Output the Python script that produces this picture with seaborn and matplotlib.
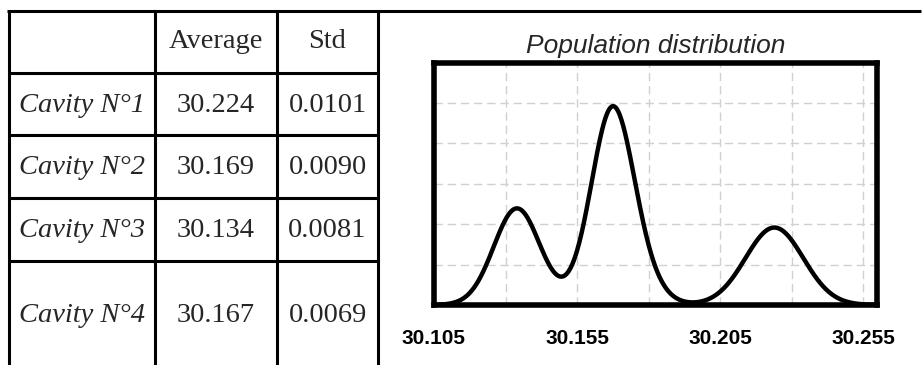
import numpy as np
import pandas as pd
import matplotlib
matplotlib.use("Agg")
import matplotlib.pyplot as plt
from matplotlib.ticker import FixedLocator, FixedFormatter
import seaborn as sns

# table values
cavities = ["Cavity N°1", "Cavity N°2", "Cavity N°3", "Cavity N°4"]
averages = [30.224, 30.169, 30.134, 30.167]
stds = [0.0101, 0.0090, 0.0081, 0.0069]
col_headers = ["", "Average", "Std"]

# x axis
x_ticks = [30.105, 30.130, 30.155, 30.180, 30.205, 30.230, 30.255]
x_ticklabels = ["30.105", "", "30.155", "", "30.205", "", "30.255"]

sns.set_style("white")
plt.rcParams["font.family"] = ["Liberation Sans", "DejaVu Sans"]

# population = mixture of the cavity normals
xs = np.linspace(30.105, 30.26, 800)
dens = np.zeros_like(xs)
for m, s in zip(averages, stds):
    dens += np.exp(-0.5 * ((xs - m) / s) ** 2) / (s * np.sqrt(2 * np.pi))
dens /= len(averages)
df = pd.DataFrame({"value": xs, "density": dens})

fig = plt.figure(figsize=(9.22, 3.65), dpi=100)

# ---- table (drawn in pixel coords) ----
tab = fig.add_axes([0, 0, 1, 1])
tab.set_xlim(0, 922)
tab.set_ylim(365, 0)
tab.axis("off")
col_edges = [8.5, 154.5, 277, 378]
row_edges = [11, 73, 135, 198, 261, 369]
lw_tab = 2.2
tab.plot([7, 921], [11, 11], color="black", lw=lw_tab, solid_capstyle="butt")
for xe in col_edges:
    tab.plot([xe, xe], [11, 366], color="black", lw=lw_tab, solid_capstyle="butt")
for ye in row_edges[1:-1]:
    tab.plot([col_edges[0], col_edges[-1]], [ye, ye], color="black", lw=lw_tab, solid_capstyle="butt")

col_c = [(col_edges[i] + col_edges[i + 1]) / 2 for i in range(3)]
row_c = [(row_edges[i] + row_edges[i + 1]) / 2 for i in range(5)]
serif = ["Liberation Serif", "DejaVu Serif"]
fs_tab = 20.5
for j, h in enumerate(col_headers):
    tab.text(col_c[j], row_c[0], h, ha="center", va="center", fontsize=fs_tab, family=serif)
for i, (c, a, s) in enumerate(zip(cavities, averages, stds)):
    y = row_c[i + 1] + 1
    tab.text(col_c[0], y, c, ha="center", va="center", fontsize=fs_tab, family=serif, style="italic")
    tab.text(col_c[1], y, f"{a:.3f}", ha="center", va="center", fontsize=fs_tab, family=serif)
    tab.text(col_c[2], y, f"{s:.4f}", ha="center", va="center", fontsize=fs_tab, family=serif)

# ---- distribution plot ----
ax = fig.add_axes([434 / 922, 1 - 305 / 365, 442.5 / 922, 242.5 / 365])
sns.lineplot(data=df, x="value", y="density", ax=ax, color="black", lw=3.2, zorder=3)
ax.set_xlim(30.105, 30.2597)
ytop = dens.max() / 0.82
ax.set_ylim(0, ytop)
ax.yaxis.set_major_locator(FixedLocator(np.linspace(0, ytop, 7)))
ax.xaxis.set_major_locator(FixedLocator(x_ticks))
ax.xaxis.set_major_formatter(FixedFormatter(x_ticklabels))
ax.grid(True, color="#d0d0d0", lw=1.0, ls=(0, (6, 3.5)))
ax.set_axisbelow(True)
for sp in ax.spines.values():
    sp.set_visible(True)
    sp.set_color("black")
    sp.set_linewidth(4)
ax.tick_params(axis="x", direction="out", length=4.5, width=1.5, pad=12.5,
               labelsize=15, colors="black")
for lab in ax.get_xticklabels():
    lab.set_fontweight("bold")
ax.tick_params(axis="y", left=False, labelleft=False)
ax.set_xlabel("")
ax.set_ylabel("")
ax.set_title("Population distribution", fontsize=19, style="italic", pad=7)

fig.savefig("out.png", dpi=100)
